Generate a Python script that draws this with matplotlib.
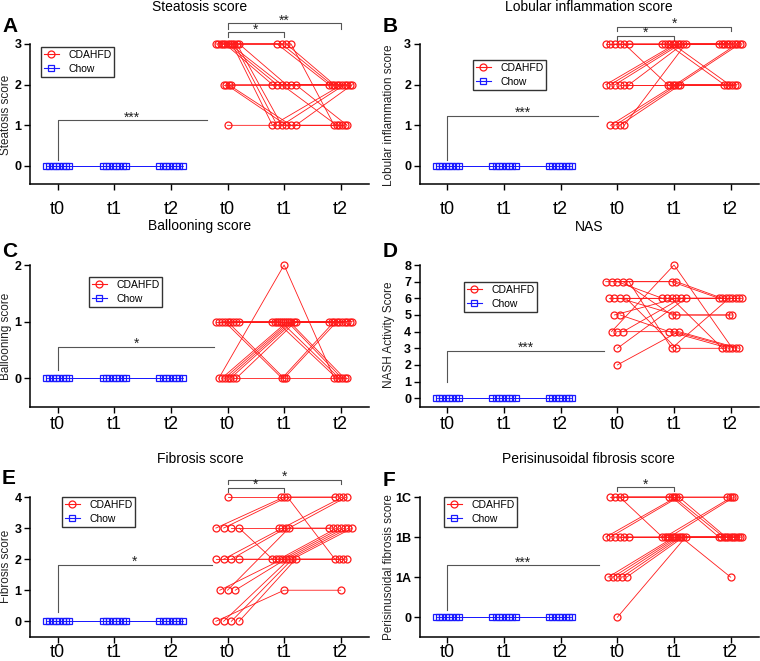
import matplotlib
matplotlib.use("Agg")
import matplotlib.pyplot as plt
from matplotlib.lines import Line2D
from collections import Counter

plt.rcParams['font.family'] = ['Liberation Sans', 'DejaVu Sans']

# individual CDAHFD mice: (t0, t1, t2)
steatosis = [(3, 3, 2), (3, 3, 2), (3, 3, 2), (3, 3, 1), (3, 2, 2), (3, 2, 2),
             (3, 2, 1), (3, 1, 2), (3, 1, 1), (3, 1, 2), (3, 2, 2), (2, 2, 2),
             (2, 1, 1), (2, 1, 1), (2, 2, 1), (1, 1, 2)]
lobular = [(3, 3, 3), (3, 3, 3), (3, 3, 2), (3, 3, 3), (3, 2, 2), (3, 3, 2),
           (2, 3, 3), (2, 3, 3), (2, 3, 3), (2, 2, 2), (2, 2, 2), (2, 3, 3),
           (1, 2, 3), (1, 2, 3), (1, 2, 2), (1, 3, 3)]
ballooning = [(0, 2, 0), (1, 1, 1), (1, 1, 1), (1, 1, 0), (1, 0, 1), (1, 0, 1),
              (1, 1, 1), (1, 1, 0), (1, 1, 1), (1, 1, 1), (0, 1, 0), (0, 1, 0),
              (0, 1, 1), (0, 1, 1), (0, 0, 0), (0, 1, 1)]
nas = [(7, 7, 6), (7, 7, 6), (7, 6, 6), (7, 5, 5), (7, 3, 6), (6, 6, 6),
       (6, 6, 3), (6, 5, 5), (6, 3, 3), (5, 6, 6), (5, 4, 3), (4, 8, 3),
       (4, 4, 3), (4, 6, 6), (3, 6, 6), (2, 4, 3)]
fibrosis = [(4, 4, 4), (3, 4, 4), (3, 4, 2), (3, 3, 3), (3, 2, 2), (2, 2, 2),
            (2, 3, 4), (2, 3, 3), (2, 2, 3), (1, 2, 3), (1, 3, 4), (1, 2, 3),
            (0, 1, 1), (0, 2, 3), (0, 2, 3), (0, 2, 2)]
# perisinusoidal: 0, 1A, 1B, 1C coded as 0..3
perisinusoidal = [(3, 3, 3), (3, 3, 2), (3, 2, 2), (3, 3, 2), (2, 3, 3), (2, 3, 2),
                  (2, 2, 3), (2, 2, 2), (2, 2, 3), (2, 2, 2), (1, 2, 2), (1, 2, 2),
                  (1, 2, 2), (1, 2, 1), (1, 2, 2), (0, 2, 2)]
# chow mice, same score at every time point
chow = [(0, 0, 0)] * 8

xlabels = ['t0', 't1', 't2', 't0', 't1', 't2']
peri_ticks = ['0', '1A', '1B', '1C']

W, H = 760, 661
fig = plt.figure(figsize=(W / 100, H / 100), dpi=100)

RED = '#ff1a1a'
BLUE = '#1a1aff'
GREY = '#555555'
XMIN, XMAX = -0.49, 5.5


def px_text(x, y, s, **kw):
    fig.text(x / W, 1 - y / H, s, **kw)


def make_axes(t0px, t5px, y0px, ytpx, ytop, ymin, ymax, xpad):
    ux = (t5px - t0px) / 5
    uy = (y0px - ytpx) / ytop
    left = t0px + XMIN * ux
    bottom = y0px - ymin * uy
    top = y0px - ymax * uy
    ax = fig.add_axes([left / W, 1 - bottom / H, (XMAX - XMIN) * ux / W, (bottom - top) / H])
    ax.set_xlim(XMIN, XMAX)
    ax.set_ylim(ymin, ymax)
    for s in ['top', 'right']:
        ax.spines[s].set_visible(False)
    ax.spines['left'].set_bounds(ymin, ytop)
    ax.spines['left'].set_linewidth(1.1)
    ax.spines['bottom'].set_linewidth(1.1)
    ax.set_xticks(range(6))
    ax.set_xticklabels(xlabels, fontsize=13)
    ax.set_yticks(range(ytop + 1))
    ax.tick_params(axis='x', length=4, width=1, pad=xpad)
    ax.tick_params(axis='y', length=4, width=1, pad=2, labelsize=9)
    for lab in ax.get_yticklabels():
        lab.set_fontweight('bold')
    return ax


def spread(values, center):
    counts = Counter(values)
    maxn = max(counts.values())
    step = min(0.41 / (maxn - 1), 0.14) if maxn > 1 else 0
    seen = {}
    xs = []
    for v in values:
        i = seen.get(v, 0)
        seen[v] = i + 1
        xs.append(center + (i - (counts[v] - 1) / 2) * step)
    return xs


def draw_group(ax, mice, start, color, marker, ms):
    cols = list(zip(*mice))
    xs = [spread(list(c), start + k) for k, c in enumerate(cols)]
    for m, vals in enumerate(mice):
        ax.plot([xs[k][m] for k in range(3)], vals, color=color, lw=0.6,
                zorder=2, clip_on=False)
    for k in range(3):
        ax.plot(xs[k], cols[k], linestyle='none', marker=marker, ms=ms,
                mfc='none', mec=color, mew=0.9, zorder=3, clip_on=False)


def low_bracket(ax, ylo, yhi, xend, txt):
    ax.plot([0, 0, xend], [ylo, yhi, yhi], color=GREY, lw=0.8, clip_on=False)
    ax.annotate(txt, (xend / 2, yhi), xytext=(0, -3), textcoords='offset points',
                ha='center', va='bottom', fontsize=10, color='#222222')


def top_bracket(ax, x1, x2, y, d, txt):
    ax.plot([x1, x1, x2, x2], [y - d, y, y, y - d], color=GREY, lw=0.8, clip_on=False)
    ax.annotate(txt, ((x1 + x2) / 2, y), xytext=(0, -3), textcoords='offset points',
                ha='center', va='bottom', fontsize=10, color='#222222')


def legend(ax, x, y):
    h = [Line2D([], [], color=RED, lw=0.8, marker='o', ms=5, mfc='none', mew=0.9),
         Line2D([], [], color=BLUE, lw=0.8, marker='s', ms=4.5, mfc='none', mew=0.9)]
    ax.legend(h, ['CDAHFD', 'Chow'], loc='upper left',
              bbox_to_anchor=(x / W, 1 - y / H), bbox_transform=fig.transFigure,
              fontsize=7.5, frameon=True, fancybox=False, edgecolor='#333333',
              framealpha=1, borderaxespad=0, handlelength=1.4, borderpad=0.3,
              labelspacing=0.35, handletextpad=0.9)


panels = [
    # data, letter, title, ylabel, t0px, t5px, y0px, ytpx, ytop, ymin, ymax, xpad,
    # letter pos, title pos, ylabel pos, legend pos
    (steatosis, 'A', 'Steatosis score', 'Steatosis score',
     57.7, 340.7, 166, 44, 3, -0.45, 3.75, 8, (2, 27), (200, 7), (6, 115), (41, 47)),
    (lobular, 'B', 'Lobular inflammation score', 'Lobular inflammation score',
     447.3, 730.7, 166, 44, 3, -0.45, 3.75, 8, (383, 27), (589, 7), (389, 115), (473, 60)),
    (ballooning, 'C', 'Ballooning score', 'Ballooning score',
     57.7, 340.7, 378.3, 265, 2, -0.5, 2.3, 3, (2, 252), (200, 226), (6, 336), (89, 277)),
    (nas, 'D', 'NAS', 'NASH Activity Score',
     447.3, 730.7, 398.3, 265, 8, -0.5, 8.6, 3, (383, 252), (589, 227), (389, 335), (464, 282)),
    (fibrosis, 'E', 'Fibrosis score', 'Fibrosis score',
     57.7, 340.7, 621.3, 497, 4, -0.5, 4.8, 1, (2, 479), (200, 459), (6, 566), (62, 497)),
    (perisinusoidal, 'F', 'Perisinusoidal fibrosis score', 'Perisinusoidal fibrosis score',
     447.3, 730.7, 617.3, 497, 3, -0.49, 3.5, 1, (383, 480), (588, 459), (389, 567), (444, 497)),
]

low_brackets = {
    'A': (0.15, 1.12, 2.63, '***'),
    'B': (0.15, 1.24, 2.66, '***'),
    'C': (0.15, 0.56, 2.77, '*'),
    'D': (1.0, 2.86, 2.77, '***'),
    'E': (0.3, 1.82, 2.72, '*'),
    'F': (0.19, 1.30, 2.68, '***'),
}
top_brackets = {
    'A': [(3, 4, 3.29, 0.11, '*'), (3, 5, 3.51, 0.13, '**')],
    'B': [(3, 4, 3.20, 0.09, '*'), (3, 5, 3.43, 0.10, '*')],
    'E': [(3, 4, 4.29, 0.13, '*'), (3, 5, 4.55, 0.13, '*')],
    'F': [(3, 4, 3.24, 0.08, '*')],
}

for (data, letter, title, ylab, t0px, t5px, y0px, ytpx, ytop, ymin, ymax, xpad,
     lpos, tpos, ypos, legpos) in panels:
    ax = make_axes(t0px, t5px, y0px, ytpx, ytop, ymin, ymax, xpad)
    if letter == 'F':
        ax.set_yticklabels(peri_ticks)
        for lab in ax.get_yticklabels():
            lab.set_fontweight('bold')
    draw_group(ax, chow, 0, BLUE, 's', 4.5)
    draw_group(ax, data, 3, RED, 'o', 5)
    low_bracket(ax, *low_brackets[letter])
    for b in top_brackets.get(letter, []):
        top_bracket(ax, *b)
    legend(ax, *legpos)
    px_text(*lpos, letter, fontsize=15, fontweight='bold', ha='left', va='center')
    px_text(*tpos, title, fontsize=10, ha='center', va='center')
    px_text(*ypos, ylab, fontsize=8.5, ha='center', va='center', rotation=90, color='#222222')

fig.savefig('out.png', dpi=100)
